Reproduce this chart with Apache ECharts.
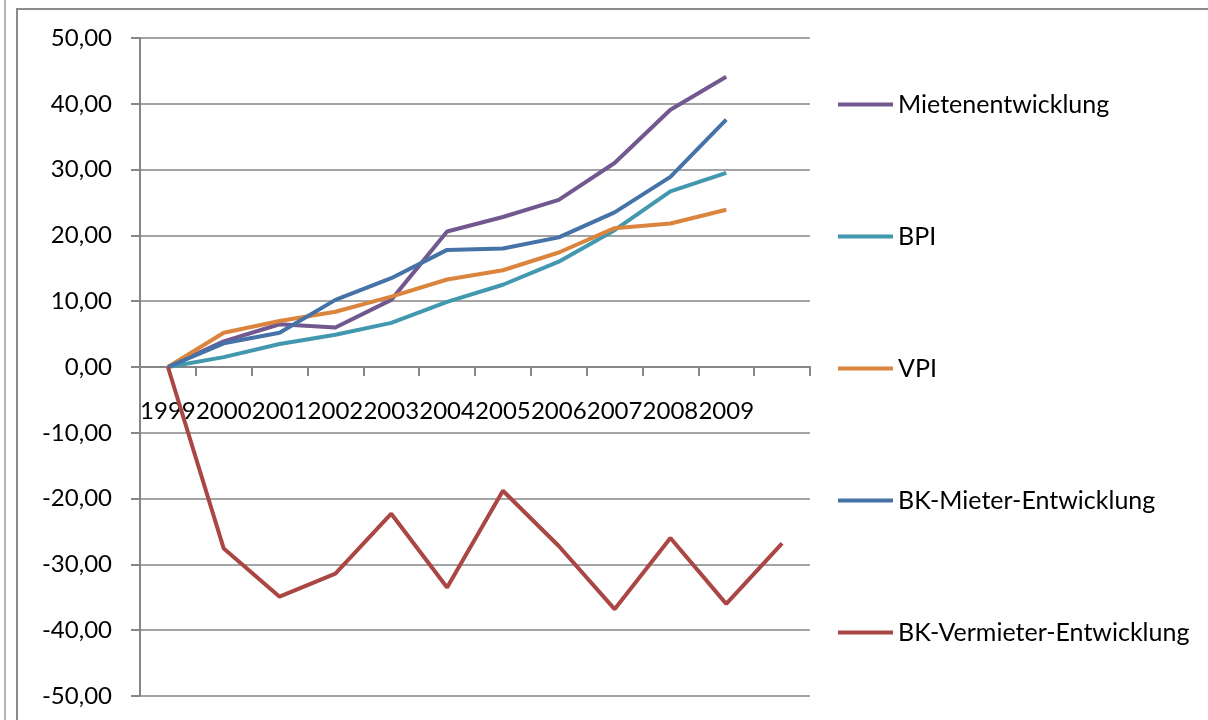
<!DOCTYPE html>
<html>
  <head>
    <meta charset="utf-8" />
    <title>Mieten- und Preisentwicklung</title>
    <style>
      body { margin: 0; background: #ffffff; }
      #frame_outer { position: absolute; left: 4px; top: 0; width: 2px; height: 720px; background: #b4b4b4; }
      #frame_inner { position: absolute; left: 16px; top: 8px; width: 1192px; height: 712px;
        border-left: 2px solid #8c8c8c; border-top: 2px solid #8c8c8c; box-sizing: border-box; }
      #chart { position: absolute; left: 0; top: 0; width: 1208px; height: 720px; }
    </style>
  </head>
  <body>
    <div id="frame_outer"></div>
    <div id="frame_inner"></div>
    <div id="chart"></div>
    <script src="https://cdn.jsdelivr.net/npm/echarts@6/dist/echarts.min.js"></script>
    <script type="text/javascript">
      // Kategorien (letzte Spalte ohne Beschriftung)
      var years = ["1999", "2000", "2001", "2002", "2003", "2004", "2005", "2006", "2007", "2008", "2009", ""];

      var mieten = [0, 3.9, 6.5, 6.0, 10.2, 20.6, 22.8, 25.4, 31.0, 39.1, 44.1, null];
      var bpi = [0, 1.5, 3.5, 4.9, 6.7, 9.9, 12.5, 16.0, 20.8, 26.7, 29.5, null];
      var vpi = [0, 5.2, 7.0, 8.4, 10.7, 13.3, 14.7, 17.4, 21.1, 21.8, 23.9, null];
      var bkMieter = [0, 3.6, 5.2, 10.2, 13.5, 17.8, 18.0, 19.7, 23.5, 28.9, 37.6, null];
      var bkVermieter = [0, -27.6, -34.9, -31.4, -22.3, -33.5, -18.8, -27.2, -36.8, -26.0, -36.0, -26.8];

      var names = ["Mietenentwicklung", "BPI", "VPI", "BK-Mieter-Entwicklung", "BK-Vermieter-Entwicklung"];
      var colors = ["#71588f", "#4198af", "#db843d", "#4572a7", "#aa4643"];
      var values = [mieten, bpi, vpi, bkMieter, bkVermieter];

      var yMin = -50, yMax = 50;
      var gridTop = 38, gridBottom = 24, chartHeight = 720;
      // x-Achse sitzt bei 0: Abstand vom unteren Rand des Plotbereichs
      var plotHeight = chartHeight - gridTop - gridBottom;
      var zeroOffset = -plotHeight * (0 - yMin) / (yMax - yMin);

      var chart = echarts.init(document.getElementById("chart"));

      var series = [];
      for (var i = 0; i < names.length; i++) {
        series.push({
          name: names[i],
          type: "line",
          data: values[i],
          color: colors[i],
          showSymbol: false,
          symbol: "none",
          connectNulls: false,
          lineStyle: { width: 4, color: colors[i] }
        });
      }

      chart.setOption({
        animation: false,
        textStyle: { fontFamily: "Lato" },
        grid: { left: 140, right: 398, top: gridTop, bottom: gridBottom, outerBoundsMode: "none" },
        legend: {
          orient: "vertical",
          left: 838,
          top: 92,
          padding: 0,
          itemGap: 107,
          itemWidth: 55,
          itemHeight: 4,
          icon: "rect",
          data: names,
          textStyle: { fontSize: 25, lineHeight: 24, color: "#000000", fontFamily: "Lato" }
        },
        xAxis: {
          type: "category",
          data: years,
          boundaryGap: true,
          position: "bottom",
          offset: zeroOffset,
          axisLine: { onZero: false, lineStyle: { color: "#868686", width: 2 } },
          axisTick: { show: true, length: 9, lineStyle: { color: "#868686", width: 2 } },
          axisLabel: { interval: 0, margin: 32, fontSize: 24, color: "#000000", fontFamily: "Lato" },
          splitLine: { show: false }
        },
        yAxis: {
          type: "value",
          min: yMin,
          max: yMax,
          interval: 10,
          axisLine: { show: true, lineStyle: { color: "#868686", width: 2 } },
          axisTick: { show: true, length: 9, lineStyle: { color: "#868686", width: 2 } },
          axisLabel: {
            margin: 28,
            fontSize: 24,
            color: "#000000",
            fontFamily: "Lato",
            formatter: function (v) {
              return v.toFixed(2).replace(".", ",");
            }
          },
          splitLine: { show: true, lineStyle: { color: "#868686", width: 1.5 } }
        },
        series: series
      });
    </script>
  </body>
</html>
